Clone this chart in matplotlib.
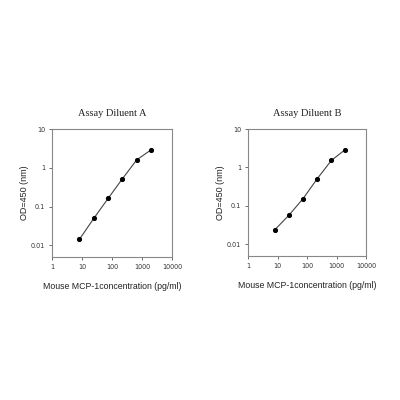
import matplotlib
matplotlib.use('Agg')
import matplotlib.pyplot as plt
from matplotlib.ticker import FixedLocator, NullLocator

CONC = [8.23, 24.7, 74.1, 222.2, 666.7, 2000]
OD_A = [0.0143, 0.0495, 0.162, 0.52, 1.6, 2.89]
OD_B = [0.0243, 0.058, 0.156, 0.51, 1.52, 2.93]

TITLES = ['Assay Diluent A', 'Assay Diluent B']
X_LABEL = 'Mouse MCP-1concentration (pg/ml)'
Y_LABEL = 'OD=450 (nm)'
X_TICKS = [1, 10, 100, 1000, 10000]
X_TICKLABELS = ['1', '10', '100', '1000', '10000']
Y_TICKS = [0.01, 0.1, 1, 10]
Y_TICKLABELS = ['0.01', '0.1', '1', '10']


def draw_panel(ax, values, title):
    ax.plot(CONC, values, color='#444444', lw=0.8, marker='o', ms=2.7,
            mfc='black', mec='black')
    ax.set_xscale('log')
    ax.set_yscale('log')
    ax.set_xlim(1, 10000)
    ax.set_ylim(0.005, 10)
    ax.xaxis.set_major_locator(FixedLocator(X_TICKS))
    ax.xaxis.set_minor_locator(NullLocator())
    ax.yaxis.set_major_locator(FixedLocator(Y_TICKS))
    ax.yaxis.set_minor_locator(NullLocator())
    ax.set_xticklabels(X_TICKLABELS)
    ax.set_yticklabels(Y_TICKLABELS)
    ax.tick_params(labelsize=4.7, length=2, width=0.6, colors='#555555',
                   labelcolor='#333333', pad=3)
    for spine in ax.spines.values():
        spine.set_color('#888888')
        spine.set_linewidth(0.8)
    ax.set_title(title, fontsize=7.5, family='Liberation Serif', pad=9, color='#222222')
    ax.set_xlabel(X_LABEL, fontsize=6.3, family='Liberation Sans', labelpad=9, color='#222222')
    ax.set_ylabel(Y_LABEL, fontsize=6.5, family='Liberation Sans', labelpad=1, color='#222222')


def main():
    fig = plt.figure(figsize=(4, 4), dpi=100)
    ax_a = fig.add_axes([0.13, 0.3575, 0.30, 0.32])
    ax_b = fig.add_axes([0.62, 0.36, 0.295, 0.3175])
    draw_panel(ax_a, OD_A, TITLES[0])
    draw_panel(ax_b, OD_B, TITLES[1])
    fig.savefig('out.png', dpi=100)


if __name__ == '__main__':
    main()
